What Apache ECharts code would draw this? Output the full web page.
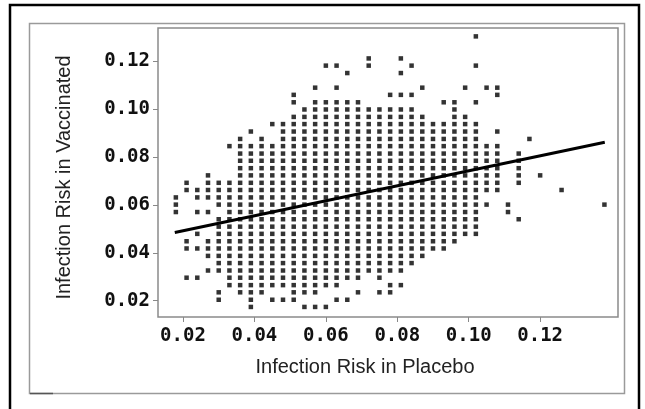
<!DOCTYPE html>
<html>
<head>
<meta charset="utf-8">
<script src="https://cdn.jsdelivr.net/npm/echarts@6/dist/echarts.min.js"></script>
<style>
  html, body { margin: 0; padding: 0; background: #fff; }
  #main { width: 645px; height: 409px; }
</style>
</head>
<body>
<div id="main"></div>
<script>
// column positions (placebo risk) and row positions (vaccinated risk) of the plotted grid
const xLevels = [0.018, 0.021, 0.024, 0.027, 0.030, 0.033, 0.036, 0.039, 0.042, 0.045,
  0.048, 0.051, 0.054, 0.057, 0.060, 0.063, 0.066, 0.069, 0.072, 0.075,
  0.078, 0.081, 0.084, 0.087, 0.090, 0.093, 0.096, 0.099, 0.102, 0.105,
  0.108, 0.111, 0.114, 0.117, 0.120, 0.123, 0.126, 0.129, 0.132, 0.135, 0.138];
const yLevels = [0.0174, 0.0204, 0.0235, 0.0265, 0.0296, 0.0326, 0.0357, 0.0387, 0.0418, 0.0448,
  0.0479, 0.0509, 0.0540, 0.0570, 0.0601, 0.0631, 0.0662, 0.0692, 0.0723, 0.0753,
  0.0784, 0.0814, 0.0845, 0.0875, 0.0906, 0.0937, 0.0967, 0.0998, 0.1028, 0.1059,
  0.1089, 0.1120, 0.1150, 0.1181, 0.1211, 0.1242, 0.1272, 0.1303];

// for each column: which rows hold a point
const columnRows = [
  [13, 14, 15],
  [4, 8, 9, 16, 17],
  [4, 8, 10, 13, 15, 16],
  [5, 7, 8, 9, 13, 15, 16, 17, 18],
  [1, 2, 5, 6, 7, 8, 9, 10, 11, 12, 14, 15, 16, 17],
  [3, 4, 5, 6, 7, 8, 9, 10, 11, 12, 13, 14, 15, 16, 17, 22],
  [2, 3, 4, 5, 6, 7, 8, 9, 10, 11, 12, 13, 14, 15, 16, 17, 18, 19, 20, 21, 22, 23],
  [0, 1, 2, 3, 4, 5, 6, 7, 8, 9, 10, 11, 12, 13, 14, 15, 16, 17, 18, 19, 20, 21, 22, 24],
  [2, 3, 4, 5, 6, 7, 8, 9, 10, 11, 12, 13, 14, 15, 16, 17, 18, 19, 20, 21, 22, 23],
  [1, 3, 4, 5, 6, 7, 8, 9, 10, 11, 12, 13, 14, 15, 16, 17, 18, 19, 20, 21, 22, 25],
  [1, 3, 4, 5, 6, 7, 8, 9, 10, 11, 12, 13, 14, 15, 16, 17, 18, 19, 20, 21, 22, 23, 24, 25],
  [1, 2, 3, 4, 5, 6, 7, 8, 9, 10, 11, 12, 13, 14, 15, 16, 17, 18, 19, 20, 21, 22, 23, 24, 25, 26, 28, 29],
  [0, 2, 3, 4, 5, 6, 7, 8, 9, 10, 11, 12, 13, 14, 15, 16, 17, 18, 19, 20, 21, 22, 23, 24, 25, 26, 27],
  [0, 2, 3, 4, 5, 6, 7, 8, 9, 10, 11, 12, 13, 14, 15, 16, 17, 18, 19, 20, 21, 22, 23, 24, 25, 26, 27, 28, 30],
  [0, 3, 4, 5, 6, 7, 8, 9, 10, 11, 12, 13, 14, 15, 16, 17, 18, 19, 20, 21, 22, 23, 24, 25, 26, 27, 28, 33],
  [1, 3, 4, 5, 6, 7, 8, 9, 10, 11, 12, 13, 14, 15, 16, 17, 18, 19, 20, 21, 22, 23, 24, 25, 26, 27, 28, 30, 33],
  [1, 4, 5, 6, 7, 8, 9, 10, 11, 12, 13, 14, 15, 16, 17, 18, 19, 20, 21, 22, 23, 24, 25, 26, 27, 28, 32],
  [2, 4, 5, 6, 7, 8, 9, 10, 11, 12, 13, 14, 15, 16, 17, 18, 19, 20, 21, 22, 23, 24, 25, 26, 27, 28],
  [5, 6, 7, 8, 9, 10, 11, 12, 13, 14, 15, 16, 17, 18, 19, 20, 21, 22, 23, 24, 25, 26, 27, 33, 34],
  [2, 4, 5, 6, 7, 8, 9, 10, 11, 12, 13, 14, 15, 16, 17, 18, 19, 20, 21, 22, 23, 24, 25, 26, 27],
  [2, 3, 5, 6, 7, 8, 9, 10, 11, 12, 13, 14, 15, 16, 17, 18, 19, 20, 21, 22, 23, 24, 25, 26, 27, 29],
  [3, 5, 6, 7, 8, 9, 10, 11, 12, 13, 14, 15, 16, 17, 18, 19, 20, 21, 22, 23, 24, 25, 26, 27, 29, 32, 34],
  [6, 7, 8, 9, 10, 11, 12, 13, 14, 15, 16, 17, 18, 19, 20, 21, 22, 23, 24, 25, 26, 27, 29, 33],
  [7, 8, 9, 10, 11, 12, 13, 14, 15, 16, 17, 18, 19, 20, 21, 22, 23, 24, 25, 26, 30],
  [8, 9, 10, 11, 12, 13, 14, 15, 16, 17, 18, 19, 20, 21, 22, 23, 24, 25],
  [8, 9, 10, 11, 12, 13, 14, 15, 16, 17, 18, 19, 20, 21, 22, 23, 24, 25, 28],
  [9, 10, 11, 12, 13, 14, 15, 16, 17, 18, 19, 20, 21, 22, 23, 24, 25, 26, 27, 28],
  [10, 11, 12, 13, 14, 15, 16, 17, 18, 19, 20, 21, 22, 23, 24, 25, 26, 30],
  [10, 11, 12, 13, 14, 15, 16, 17, 18, 19, 20, 21, 22, 23, 24, 25, 28, 33, 37],
  [14, 16, 17, 18, 19, 20, 21, 22, 30],
  [16, 17, 18, 19, 20, 21, 22, 24, 29, 30],
  [13, 14],
  [12, 17, 18, 19, 20, 21],
  [23],
  [18],
  [],
  [16],
  [],
  [],
  [],
  [14]
];

// fitted line end points
const fitX = [0.0177, 0.1381];
const fitY = [0.0485, 0.0861];

const xTicks = [0.02, 0.04, 0.06, 0.08, 0.10, 0.12];
const yTicks = [0.02, 0.04, 0.06, 0.08, 0.10, 0.12];

const points = [];
columnRows.forEach((rows, j) => {
  rows.forEach(k => points.push([xLevels[j], yLevels[k]]));
});

const tickLabel = {
  color: '#111',
  fontFamily: 'DejaVu Sans Mono',
  fontWeight: 'bold',
  fontSize: 19,
  formatter: v => v.toFixed(2)
};

const chart = echarts.init(document.getElementById('main'));
chart.setOption({
  backgroundColor: '#fff',
  animation: false,
  graphic: [
    { type: 'rect', shape: { x: 10, y: 5, width: 629, height: 430 },
      style: { fill: null, stroke: '#000', lineWidth: 2.5 } },
    { type: 'rect', shape: { x: 29.5, y: 23.5, width: 595, height: 370 },
      style: { fill: null, stroke: '#9a9a9a', lineWidth: 1.5 } },
    { type: 'line', shape: { x1: 30, y1: 393.5, x2: 53, y2: 393.5 },
      style: { stroke: '#555', lineWidth: 1.5 } }
  ],
  grid: {
    left: 158, top: 28, width: 460, height: 289,
    show: true, borderColor: '#8a8a8a', borderWidth: 1.5, backgroundColor: '#fff'
  },
  xAxis: {
    type: 'value', min: 0.013, max: 0.1418,
    name: 'Infection Risk in Placebo', nameLocation: 'middle', nameGap: 40,
    nameTextStyle: { fontFamily: 'Liberation Sans', fontSize: 20, color: '#222', padding: [0, 46, 0, 0] },
    axisLine: { show: false },
    axisTick: { show: true, customValues: xTicks, length: 5, lineStyle: { color: '#888' } },
    axisLabel: { ...tickLabel, customValues: xTicks, margin: 10 },
    splitLine: { show: false }
  },
  yAxis: {
    type: 'value', min: 0.0132, max: 0.1338,
    name: 'Infection Risk in Vaccinated', nameLocation: 'middle', nameGap: 84,
    nameTextStyle: { fontFamily: 'Liberation Sans', fontSize: 20, color: '#222', padding: [0, 10, 0, 0] },
    axisLine: { show: false },
    axisTick: { show: true, customValues: yTicks, length: 5, lineStyle: { color: '#888' } },
    axisLabel: { ...tickLabel, customValues: yTicks, margin: 8 },
    splitLine: { show: false }
  },
  series: [
    {
      type: 'scatter', symbol: 'rect', symbolSize: 4.5,
      itemStyle: { color: '#000' }, data: points
    },
    {
      type: 'line', symbol: 'none', silent: true,
      lineStyle: { color: '#000', width: 3 },
      data: fitX.map((x, i) => [x, fitY[i]])
    }
  ]
});
</script>
</body>
</html>
